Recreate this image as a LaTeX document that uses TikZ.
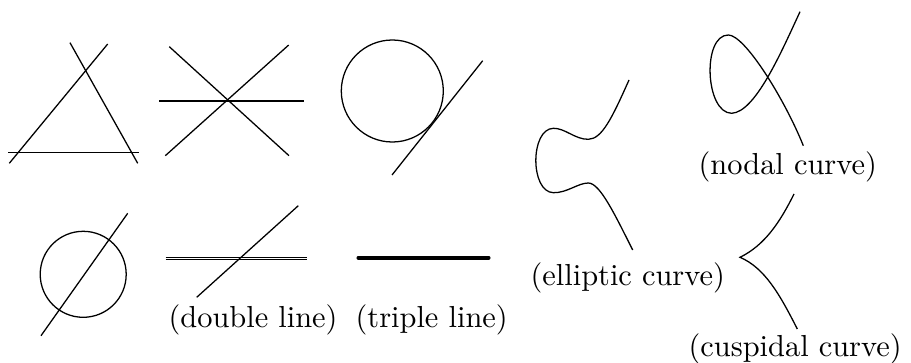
\documentclass[tikz,border=0pt]{standalone}
\begin{document}
\begin{tikzpicture}[x=0.329pt,y=-0.329pt,
  ln/.style={line width=0.42pt},
  lbl/.style={inner sep=0pt,anchor=base west}]
\useasboundingbox (0,0) rectangle (911,362);
% triangle
\draw[ln] (70,42.7) -- (137.7,163.3);
\draw[ln] (107.7,44) -- (9.3,163.3);
\draw[ln] (8,152.3) -- (139,152.3);
% three concurrent lines
\draw[ln] (159.3,101) -- (304.3,101);
\draw[ln] (169.3,46.7) -- (289,155.7);
\draw[ln] (288.7,45) -- (165.3,155.7);
% conic + tangent
\draw[ln] (392.3,91) circle (51);
\draw[ln] (482.7,60.7) -- (392,175);
% conic + secant
\draw[ln] (83.2,274.3) circle (43);
\draw[ln] (127.7,213.3) -- (41,335.7);
% double line + line
\draw[ln] (165.7,257.3) -- (307.3,257.3);
\draw[ln] (165.7,259.6) -- (307.3,259.6);
\draw[ln] (298.3,205.7) -- (196.7,297.3);
% triple line
\draw[line width=1.35pt,line cap=round] (358.5,257.7) -- (488.5,257.7);
% elliptic curve
\draw[ln] (629,80) .. controls (612,118) and (602,139) .. (588.3,139.3)
  .. controls (575,139.5) and (565,128) .. (553.3,128.3)
  .. controls (530,129) and (530,192) .. (553.3,192.7)
  .. controls (567,193) and (578,183) .. (588.3,183)
  .. controls (600,183) and (615,215) .. (632.7,250);
% nodal curve
\draw[ln] (800,11.7) .. controls (780,55) and (755,112) .. (731.7,113.3)
  .. controls (705,113) and (702,35) .. (728.3,35)
  .. controls (745,35) and (785,100) .. (803.3,145.7);
% cuspidal curve
\draw[ln] (794,194) .. controls (780,222) and (765,245) .. (740,257.3)
  .. controls (765,268) and (780,295) .. (797.3,329);
% labels
\node[lbl] (dbl) at (168,327.5) {(double line)};
\node[lbl] (trp) at (355,327.5) {(triple line)};
\node[lbl] (ell) at (530,285) {(elliptic curve)};
\node[lbl] (nod) at (698,174) {(nodal curve)};
\node[lbl] (cus) at (688,356) {(cuspidal curve)};
\end{tikzpicture}
\end{document}
